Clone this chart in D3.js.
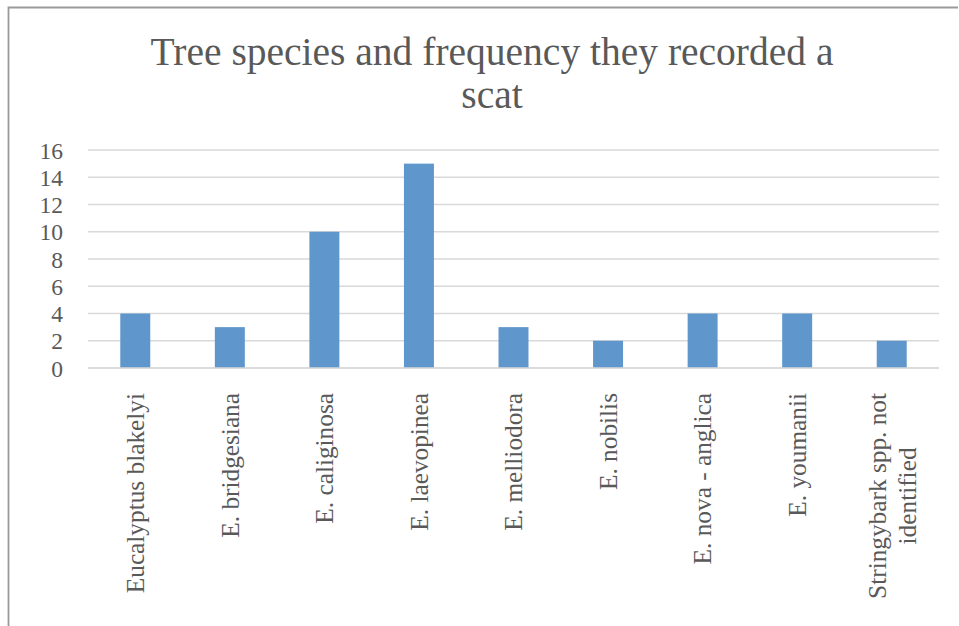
<!DOCTYPE html>
<html>
<head>
<meta charset="utf-8">
<script src="https://cdn.jsdelivr.net/npm/d3@7"></script>
<style>
  html, body { margin: 0; padding: 0; background: #fff; }
  svg { display: block; }
</style>
</head>
<body>
<svg id="chart" width="959" height="626"></svg>
<script>
const categories = [
  "Eucalyptus blakelyi",
  "E. bridgesiana",
  "E. caliginosa",
  "E. laevopinea",
  "E. melliodora",
  "E. nobilis",
  "E. nova - anglica",
  "E. youmanii",
  "Stringybark spp. not|identified"
];
const values = [4, 3, 10, 15, 3, 2, 4, 4, 2];
const yTicks = [0, 2, 4, 6, 8, 10, 12, 14, 16];
const titleLines = ["Tree species and frequency they recorded a", "scat"];

const svg = d3.select("#chart");
const W = 959, H = 626;
const plot = { left: 88, right: 939, top: 150, bottom: 368 };
const textColor = "#595959";
const serif = "'Liberation Serif', 'Times New Roman', serif";

svg.append("rect").attr("width", W).attr("height", H).attr("fill", "#fff");

// outer border (only top and left visible)
svg.append("path")
  .attr("d", `M8.5,${H} V7.5 H958`)
  .attr("fill", "none")
  .attr("stroke", "#9a9a9a")
  .attr("stroke-width", 1.8);

// title
const title = svg.append("text")
  .attr("text-anchor", "middle")
  .attr("fill", textColor)
  .style("font-family", serif)
  .style("font-size", "39.5px");
titleLines.forEach((t, i) => {
  title.append("tspan")
    .attr("x", 492)
    .attr("y", 65 + i * 43)
    .text(t);
});

const x = d3.scaleBand()
  .domain(categories)
  .range([plot.left, plot.right])
  .paddingInner(0.683)
  .paddingOuter(0.3415);

const y = d3.scaleLinear()
  .domain([0, 16])
  .range([plot.bottom, plot.top]);

// gridlines
svg.append("g")
  .selectAll("line")
  .data(yTicks)
  .join("line")
  .attr("x1", plot.left)
  .attr("x2", plot.right)
  .attr("y1", d => y(d))
  .attr("y2", d => y(d))
  .attr("stroke", "#d9d9d9")
  .attr("stroke-width", 1.3);

// y axis labels
const yAxis = d3.axisLeft(y).tickValues(yTicks).tickSize(0).tickPadding(0);
const yg = svg.append("g")
  .attr("transform", `translate(63,0)`)
  .call(yAxis);
yg.select(".domain").remove();
yg.selectAll("text")
  .attr("fill", textColor)
  .attr("dy", "0.35em")
  .style("font-family", serif)
  .style("font-size", "23.5px");

// bars
svg.append("g")
  .selectAll("rect")
  .data(values)
  .join("rect")
  .attr("x", (d, i) => x(categories[i]))
  .attr("width", x.bandwidth())
  .attr("y", d => y(d))
  .attr("height", d => y(0) - y(d))
  .attr("fill", "#5f97cd");

// x axis baseline
svg.append("line")
  .attr("x1", plot.left).attr("x2", plot.right)
  .attr("y1", y(0)).attr("y2", y(0))
  .attr("stroke", "#d9d9d9").attr("stroke-width", 1.3);

// category labels (rotated)
const labelTop = 393;
const lg = svg.append("g");
categories.forEach(c => {
  const lines = c.split("|");
  const cx = x(c) + x.bandwidth() / 2;
  const g = lg.append("g");
  const lineH = 30;
  const t = g.append("text")
    .attr("fill", textColor)
    .style("font-family", serif)
    .style("font-size", "25.3px");
  if (lines.length === 1) {
    t.attr("text-anchor", "end")
      .attr("transform", `translate(${cx},${labelTop}) rotate(-90)`)
      .attr("dy", "0.35em")
      .text(lines[0]);
  } else {
    t.attr("text-anchor", "middle");
    const spans = lines.map((l, i) => t.append("tspan")
      .attr("x", 0)
      .attr("y", (i - (lines.length - 1) / 2) * lineH)
      .attr("dy", "0.35em")
      .text(l));
    const maxLen = d3.max(spans, s => s.node().getComputedTextLength());
    t.attr("transform", `translate(${cx},${labelTop + maxLen / 2}) rotate(-90)`);
  }
});
</script>
</body>
</html>
